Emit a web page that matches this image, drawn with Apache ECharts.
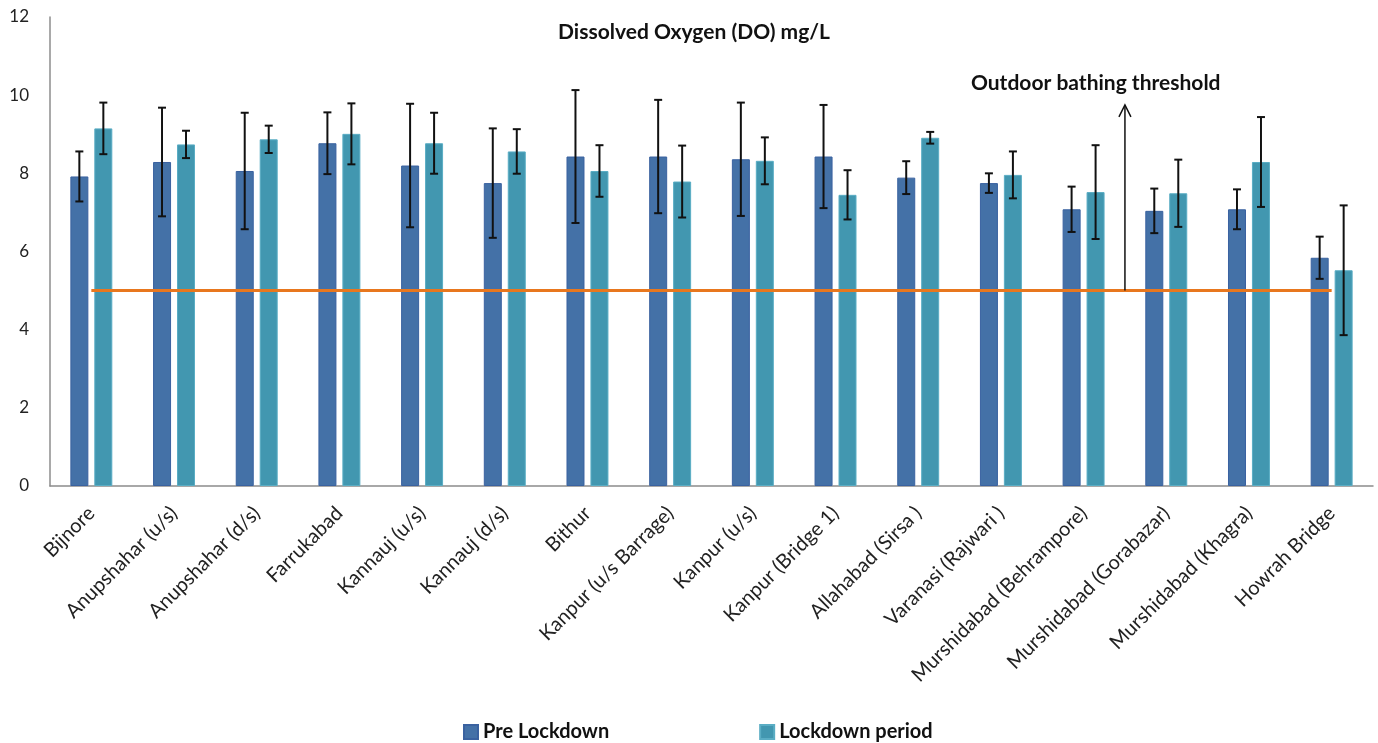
<!DOCTYPE html>
<html>
<head>
<meta charset="utf-8">
<script src="https://cdn.jsdelivr.net/npm/echarts@6/dist/echarts.min.js"></script>
<style>html,body{margin:0;padding:0;background:#fff;}#c{width:1378px;height:743px;}</style>
</head>
<body>
<div id="c"></div>
<script>
var categories = ["Bijnore","Anupshahar (u/s)","Anupshahar (d/s)","Farrukabad","Kannauj (u/s)","Kannauj (d/s)","Bithur","Kanpur (u/s Barrage)","Kanpur (u/s)","Kanpur (Bridge 1)","Allahabad (Sirsa )","Varanasi (Rajwari )","Murshidabad (Behrampore)","Murshidabad (Gorabazar)","Murshidabad (Khagra)","Howrah Bridge"];
var preLockdown = [7.92,8.29,8.06,8.77,8.20,7.75,8.43,8.43,8.36,8.43,7.89,7.75,7.08,7.04,7.08,5.84];
var preErr      = [0.64,1.39,1.49,0.79,1.58,1.40,1.70,1.45,1.45,1.32,0.42,0.25,0.58,0.57,0.51,0.54];
var lockdown    = [9.15,8.74,8.87,9.01,8.77,8.56,8.06,7.79,8.32,7.45,8.91,7.96,7.52,7.49,8.29,5.52];
var lockErr     = [0.66,0.35,0.35,0.78,0.78,0.57,0.66,0.92,0.60,0.63,0.15,0.60,1.20,0.86,1.15,1.66];
var threshold = 5;
var arrowAt = [12, 5, 9.75];
var yTicks = [0, 2, 4, 6, 8, 10, 12];
var seriesNames = ["Pre Lockdown", "Lockdown period"];
var chartTitle = "Dissolved Oxygen (DO) mg/L";
var annotation = "Outdoor bathing threshold";

var FONT = 'Lato, "Open Sans", sans-serif';
var chart = echarts.init(document.getElementById('c'));

function errRender(offset) {
  return function (params, api) {
    var i = api.value(0), v = api.value(1), e = api.value(2);
    var hi = api.coord([i, v + e]);
    var lo = api.coord([i, v - e]);
    var x = hi[0] + offset;
    var cap = 4;
    var st = {stroke: '#111', lineWidth: 2};
    return {type: 'group', children: [
      {type: 'line', shape: {x1: x, y1: hi[1], x2: x, y2: lo[1]}, style: st},
      {type: 'line', shape: {x1: x - cap, y1: hi[1], x2: x + cap, y2: hi[1]}, style: st},
      {type: 'line', shape: {x1: x - cap, y1: lo[1], x2: x + cap, y2: lo[1]}, style: st}
    ]};
  };
}

var option = {
  animation: false,
  backgroundColor: '#fff',
  title: {
    text: chartTitle, left: 689, top: 17, textAlign: 'center',
    textStyle: {fontFamily: FONT, fontSize: 21, fontWeight: 'bold', color: '#111'}
  },
  legend: {
    data: seriesNames, top: 717, left: 458, icon: 'rect', itemWidth: 14, itemHeight: 14, itemGap: 150,
    textStyle: {fontFamily: FONT, fontSize: 20, fontWeight: 'bold', color: '#111'}
  },
  grid: {left: 50, right: 5, top: 17, bottom: 257, containLabel: false},
  xAxis: {
    type: 'category', data: categories,
    axisLine: {lineStyle: {color: '#8c8c8c', width: 1.5}},
    axisTick: {show: false},
    axisLabel: {rotate: 45, interval: 0, margin: 24, fontFamily: FONT, fontSize: 20, color: '#222'}
  },
  yAxis: {
    type: 'value', min: 0, max: 12, interval: 2,
    axisLine: {show: true, lineStyle: {color: '#8c8c8c', width: 1.5}},
    axisTick: {show: false},
    splitLine: {show: false},
    axisLabel: {margin: 21, fontFamily: FONT, fontSize: 17, color: '#222',
      formatter: function (v) { return yTicks.indexOf(v) >= 0 ? String(v) : ''; }}
  },
  series: [
    {name: seriesNames[0], type: 'bar', data: preLockdown, barWidth: 18, barGap: '33%',
     itemStyle: {color: '#4471A7', borderColor: '#3A62A0', borderWidth: 1}},
    {name: seriesNames[1], type: 'bar', data: lockdown, barWidth: 18,
     itemStyle: {color: '#4297B0', borderColor: '#5AADC4', borderWidth: 1}},
    {name: 'threshold', type: 'line', data: categories.map(function () { return threshold; }),
     symbol: 'none', lineStyle: {color: '#E8771E', width: 3}, z: 5},
    {name: 'preErr', type: 'custom', z: 6,
     data: preLockdown.map(function (v, i) { return [i, v, preErr[i]]; }),
     renderItem: errRender(-12)},
    {name: 'lockErr', type: 'custom', z: 6,
     data: lockdown.map(function (v, i) { return [i, v, lockErr[i]]; }),
     renderItem: errRender(12)},
    {name: 'arrow', type: 'custom', z: 7, data: [arrowAt],
     renderItem: function (params, api) {
       var i = api.value(0);
       var half = api.size([1, 0])[0] / 2;
       var b = api.coord([i, api.value(1)]);
       var t = api.coord([i, api.value(2)]);
       var x = b[0] + half;
       var st = {stroke: '#111', lineWidth: 1.5, fill: null};
       return {type: 'group', children: [
         {type: 'line', shape: {x1: x, y1: b[1], x2: x, y2: t[1]}, style: st},
         {type: 'polyline', shape: {points: [[x - 6, t[1] + 12], [x, t[1]], [x + 6, t[1] + 12]]}, style: st},
         {type: 'text', x: x - 154, y: t[1] - 22, style: {text: annotation, fontFamily: FONT, fontSize: 21, fontWeight: 'bold', fill: '#111', textVerticalAlign: 'middle'}}
       ]};
     }}
  ]
};
chart.setOption(option);
</script>
</body>
</html>
